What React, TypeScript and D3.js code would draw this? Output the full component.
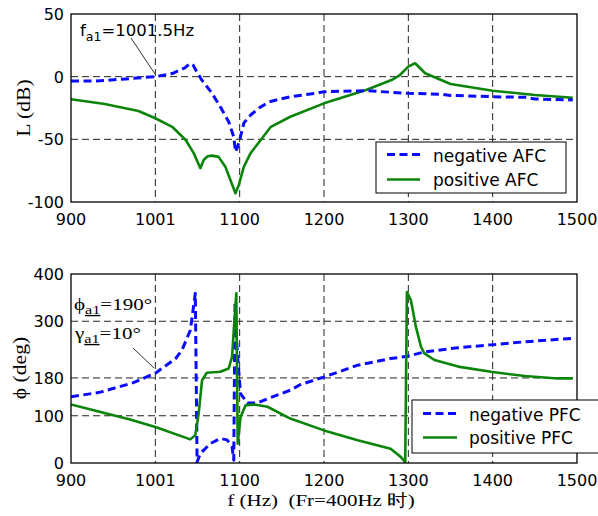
import React from "react";
import * as d3 from "d3";

// ---------- data ----------
const xTickValues = [900, 1000, 1100, 1200, 1300, 1400, 1500];
const xTickLabels = ["900", "1001", "1100", "1200", "1300", "1400", "1500"];
const afcTicks = [50, 0, -50, -100];
const pfcTicks = [400, 300, 180, 100, 0];

// negative AFC (dB)
const negAfcF = [900, 930, 960, 1000, 1020, 1035, 1041, 1045, 1049, 1055, 1067, 1077, 1087, 1093, 1095, 1097, 1100, 1105, 1113, 1123, 1135, 1160, 1190, 1200, 1250, 1300, 1340, 1350, 1400, 1440, 1450, 1495];
const negAfcL = [-3.5, -3.5, -2, 0, 2.5, 7, 10.5, 9, 4, -2.6, -13, -24, -36, -48, -60, -57, -50.5, -37, -30.6, -25, -20, -16, -13.3, -12, -11.2, -13.3, -14, -15, -16, -16.5, -17.8, -18.6];

// positive AFC (dB)
const posAfcF = [900, 940, 980, 1000, 1020, 1036, 1045.5, 1053.4, 1057.3, 1062, 1067, 1075, 1083, 1089, 1095, 1099, 1105, 1113, 1125, 1137, 1160, 1200, 1250, 1280, 1290, 1300, 1308, 1320, 1350, 1400, 1450, 1495];
const posAfcL = [-18, -21.8, -27.4, -33.2, -40, -50.5, -61, -73, -66.5, -63.5, -63, -64, -71.8, -82.5, -93, -86.4, -71.8, -61, -50.5, -40, -32, -21.3, -10.6, -2.7, 1.3, 8, 10.7, 2.7, -5.9, -11.2, -14.6, -16.8];

// negative PFC (deg)
const negPfcF = [900, 935, 974, 1000, 1024, 1031.6, 1041.5, 1047.4, 1049.5, 1053.4, 1065, 1077, 1085, 1091, 1093, 1094.5, 1097, 1101, 1109, 1121, 1133, 1160, 1172, 1200, 1240, 1279, 1299, 1319, 1359, 1398, 1438, 1495];
const negPfcP = [140, 150, 170, 190, 221, 239, 281, 359, 2, 20, 41, 52, 49, 34, 6, 340, 239, 147, 127, 127, 136, 154, 166, 182, 207, 221, 226, 235, 244, 250, 256.5, 264];

// positive PFC (deg)
const posPfcF = [900, 935, 970, 1000, 1041.5, 1047.4, 1051.4, 1055.4, 1061, 1077, 1087, 1091, 1093, 1096, 1097.7, 1101, 1107, 1117, 1133, 1160, 1200, 1240, 1279, 1291, 1296.3, 1298.3, 1303, 1309, 1315, 1319, 1331, 1359, 1398, 1438, 1477, 1495];
const posPfcP = [124, 108, 92, 76, 50, 59, 105, 175, 191, 193, 200, 225, 281, 359, 41, 97, 122, 124, 119, 94, 69, 48, 30, 13, 2, 362, 345, 288, 246, 232, 218, 204, 193, 184, 179, 179];

// ---------- layout ----------
const W = 598;
const H = 516;
const X0 = 71;
const X1 = 577;
const BLUE = "#0a0aff";
const GREEN = "#0a840a";
const SANS = "'DejaVu Sans', sans-serif";
const SERIF = "'Liberation Serif', 'Times New Roman', serif";
const SX = 1.2; // horizontal stretch of serif text

const x = d3.scaleLinear().domain([900, 1500]).range([X0, X1]);
const yTop = d3.scaleLinear().domain([-100, 50]).range([202, 14]);
const yBot = d3.scaleLinear().domain([0, 400]).range([463, 274]);

function mk(fs: number[], vs: number[], ys: d3.ScaleLinear<number, number>) {
  const pts: [number, number][] = fs.map((f, i) => [f, vs[i]]);
  return d3
    .line<[number, number]>()
    .x((d) => x(d[0]))
    .y((d) => ys(d[1]))(pts) as string;
}

function Panel({
  ys,
  yTicks,
  yLabelX,
  yAnchor,
}: {
  ys: d3.ScaleLinear<number, number>;
  yTicks: number[];
  yLabelX: number;
  yAnchor: string;
}) {
  const [r0, r1] = ys.range();
  const top = Math.min(r0, r1);
  const bot = Math.max(r0, r1);
  return (
    <g>
      <rect x={X0} y={top} width={X1 - X0} height={bot - top} fill="white" />
      {xTickValues.slice(1, -1).map((v) => (
        <line key={"gx" + v} x1={x(v)} x2={x(v)} y1={top} y2={bot} stroke="#222" strokeWidth={1} strokeDasharray="7,4" />
      ))}
      {yTicks
        .filter((v) => ys(v) > top + 1 && ys(v) < bot - 1)
        .map((v) => (
          <line key={"gy" + v} x1={X0} x2={X1} y1={ys(v)} y2={ys(v)} stroke="#222" strokeWidth={1} strokeDasharray="7,4" />
        ))}
      {xTickValues.map((v, i) => (
        <text key={"xt" + v} x={x(v)} y={bot + 23} textAnchor="middle" fontFamily={SANS} fontSize={16} fill="#000">
          {xTickLabels[i]}
        </text>
      ))}
      {yTicks.map((v) => (
        <text key={"yt" + v} x={yLabelX} y={ys(v) + 6} textAnchor={yAnchor} fontFamily={SANS} fontSize={16} fill="#000">
          {String(v)}
        </text>
      ))}
    </g>
  );
}

function Frame({ ys }: { ys: d3.ScaleLinear<number, number> }) {
  const [r0, r1] = ys.range();
  const top = Math.min(r0, r1);
  const bot = Math.max(r0, r1);
  return <rect x={X0} y={top} width={X1 - X0} height={bot - top} fill="none" stroke="#000" strokeWidth={1.3} />;
}

export default function App() {
  return (
    <svg width={W} height={H} style={{ position: "absolute", left: 0, top: 0, background: "white" }}>
      <defs>
        <clipPath id="c1">
          <rect x={X0} y={14} width={X1 - X0} height={188} />
        </clipPath>
        <clipPath id="c2">
          <rect x={X0} y={274} width={X1 - X0} height={189} />
        </clipPath>
      </defs>
      <rect x={0} y={0} width={W} height={H} fill="white" />

      {/* ---------- top panel ---------- */}
      <Panel ys={yTop} yTicks={afcTicks} yLabelX={64} yAnchor="end" />
      <g clipPath="url(#c1)">
        <path d={mk(posAfcF, posAfcL, yTop)} fill="none" stroke={GREEN} strokeWidth={2.6} strokeLinejoin="round" />
        <path d={mk(negAfcF, negAfcL, yTop)} fill="none" stroke={BLUE} strokeWidth={3} strokeDasharray="8,4.5" strokeLinejoin="round" />
      </g>
      <Frame ys={yTop} />
      <text transform={`translate(30,108) rotate(-90) scale(${SX},1)`} textAnchor="middle" fontFamily={SERIF} fontSize={18} fill="#000">
        L (dB)
      </text>
      <text x={80} y={36} fontFamily={SANS} fontSize={16.5} fill="#000">
        f
        <tspan fontSize={12.5} dy={5}>a1</tspan>
        <tspan dy={-5}>=1001.5Hz</tspan>
      </text>
      <line x1={131} y1={38} x2={155} y2={74} stroke="#000" strokeWidth={0.8} />
      {/* legend top */}
      <rect x={376} y={142} width={190} height={51} fill="white" stroke="#000" strokeWidth={1} />
      <line x1={387} x2={420} y1={154.5} y2={154.5} stroke={BLUE} strokeWidth={3} strokeDasharray="8,4.5" />
      <line x1={387} x2={420} y1={179.5} y2={179.5} stroke={GREEN} strokeWidth={2.6} />
      <text x={433} y={162} fontFamily={SANS} fontSize={17} fill="#000">negative AFC</text>
      <text x={433} y={186} fontFamily={SANS} fontSize={17} fill="#000">positive AFC</text>

      {/* ---------- bottom panel ---------- */}
      <Panel ys={yBot} yTicks={pfcTicks} yLabelX={64} yAnchor="end" />
      <g clipPath="url(#c2)">
        <path d={mk(negPfcF, negPfcP, yBot)} fill="none" stroke={BLUE} strokeWidth={3} strokeDasharray="8,4.5" strokeLinejoin="round" />
        <path d={mk(posPfcF, posPfcP, yBot)} fill="none" stroke={GREEN} strokeWidth={2.6} strokeLinejoin="round" />
      </g>
      <Frame ys={yBot} />
      <text transform={`translate(26,368) rotate(-90) scale(${SX},1)`} textAnchor="middle" fontFamily={SERIF} fontSize={18} fill="#000">
        ϕ (deg)
      </text>
      <g transform={`translate(74,310) scale(${SX},1)`}>
        <text x={0} y={0} fontFamily={SERIF} fontSize={17.5} fill="#000">
          ϕ
          <tspan fontSize={13.5} dy={4} textDecoration="underline">a1</tspan>
          <tspan dy={-4}>=190°</tspan>
        </text>
      </g>
      <g transform={`translate(75,339) scale(${SX},1)`}>
        <text x={0} y={0} fontFamily={SERIF} fontSize={17.5} fill="#000">
          γ
          <tspan fontSize={13.5} dy={4} textDecoration="underline">a1</tspan>
          <tspan dy={-4}>=10°</tspan>
        </text>
      </g>
      <line x1={133} y1={348} x2={154} y2={368} stroke="#000" strokeWidth={0.8} />
      {/* legend bottom */}
      <rect x={412} y={400} width={190} height={53} fill="white" stroke="#000" strokeWidth={1} />
      <line x1={423} x2={457} y1={413.5} y2={413.5} stroke={BLUE} strokeWidth={3} strokeDasharray="8,4.5" />
      <line x1={423} x2={457} y1={437.5} y2={437.5} stroke={GREEN} strokeWidth={2.6} />
      <text x={469} y={421} fontFamily={SANS} fontSize={17} fill="#000">negative PFC</text>
      <text x={469} y={444} fontFamily={SANS} fontSize={17} fill="#000">positive PFC</text>

      <g transform={`translate(321,506) scale(${SX},1)`}>
        <text x={0} y={0} textAnchor="middle" fontFamily={SERIF} fontSize={17.5} fill="#000" style={{ whiteSpace: "pre" }}>
          {"f (Hz)  (Fr=400Hz 时)"}
        </text>
      </g>
    </svg>
  );
}
